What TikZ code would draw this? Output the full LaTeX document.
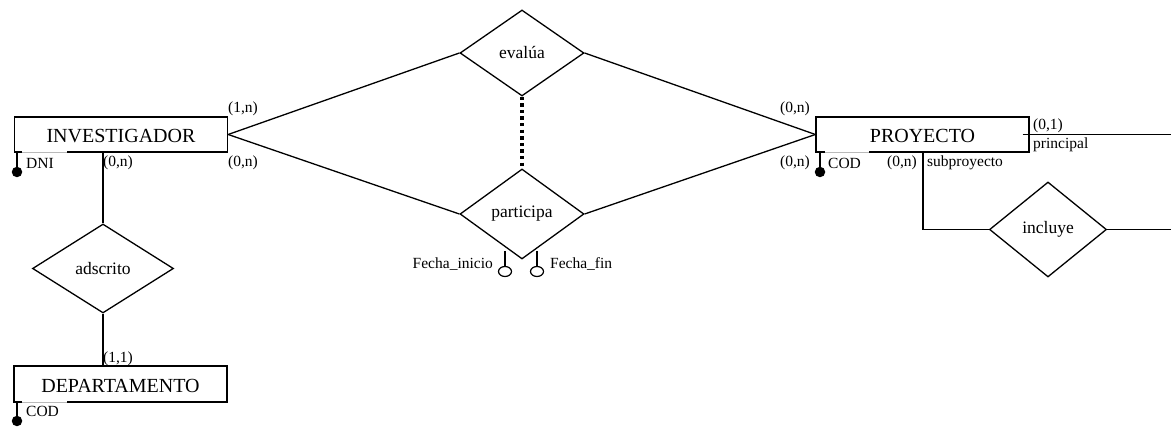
\documentclass[tikz,border=0pt]{standalone}
\usepackage{fontspec}
\setmainfont{Liberation Serif}
\usetikzlibrary{shapes.geometric}
\begin{document}
\begin{tikzpicture}[x=1pt,y=-1pt,
  ent/.style={draw, line width=1.3pt, rectangle, minimum width=213pt, minimum height=35pt, inner sep=0pt, text height=17pt, text depth=0pt, font=\fontsize{20}{22}\selectfont},
  rel/.style={draw, line width=1.3pt, diamond, inner sep=0pt, font=\fontsize{17.5}{19}\selectfont},
  lbl/.style={inner sep=0pt, font=\fontsize{15.5}{17}\selectfont},
  conn/.style={line width=1.3pt},
  keydot/.style={fill=black, circle, inner sep=0pt, minimum size=10.5pt},
  opendot/.style={draw, line width=1.2pt, ellipse, inner sep=0pt, minimum width=13pt, minimum height=10pt},
  dotline/.style={line width=3.3pt, dash pattern=on 3.3pt off 3.3pt},
  faint/.style={gray!55, line width=0.7pt}]
\useasboundingbox (0,0) rectangle (1171,427);

% entities
\node[ent] (inv) at (121,134.5) {INVESTIGADOR};
\node[ent] (pro) at (922.5,134.5) {PROYECTO};
\node[ent, minimum height=36pt] (dep) at (120.5,384) {DEPARTAMENTO};

% faint parts of bottom edges
\draw[white, line width=1.8pt] (22,152) -- (67,152);
\draw[faint] (22,152) -- (67,152);
\draw[white, line width=1.8pt] (825,152) -- (869,152);
\draw[faint] (825,152) -- (869,152);
\draw[white, line width=1.8pt] (22,402) -- (67,402);
\draw[faint] (22,402) -- (67,402);

% relationships
\node[rel, minimum width=124pt, minimum height=86pt] (eva) at (522,53) {evalúa};
\node[rel, minimum width=124pt, minimum height=90pt] (par) at (522,214) {participa};
\node[rel, minimum width=141pt, minimum height=89pt] (ads) at (103,268.5) {adscrito};
\node[rel, minimum width=117pt, minimum height=95pt] (inc) at (1048,229.5) {incluye};

% connectors
\draw[conn] (inv.east) -- (eva.west);
\draw[conn] (inv.east) -- (par.west);
\draw[conn] (pro.west) -- (eva.east);
\draw[conn] (pro.west) -- (par.east);
\draw[dotline] (eva.south) -- (par.north);
\draw[conn] (inv.south -| ads.north) -- (ads.north);
\draw[conn] (ads.south) -- (ads.south |- dep.north);
\coordinate (prend) at (1171,134.5);
\draw[conn] ([xshift=-7pt]pro.east) -- (prend);
\draw[conn] ([xshift=0.5pt]pro.south) |- (inc.west);
\coordinate (incend) at (1171,229.5);
\draw[conn] (inc.east) -- (incend);

% key attributes
\coordinate (k1) at (17,152);
\node[keydot] (k1d) at (17,172) {};
\draw[conn] (k1) -- (k1d.center);
\coordinate (k2) at (820,152);
\node[keydot] (k2d) at (820,172) {};
\draw[conn] (k2) -- (k2d.center);
\coordinate (k3) at (17,402);
\node[keydot] (k3d) at (17,421) {};
\draw[conn] (k3) -- (k3d.center);

% participa attributes
\coordinate (a1) at (505,251);
\node[opendot] (a1d) at (505,271.5) {};
\draw[conn] (a1) -- (a1d.north);
\coordinate (a2) at (537,251);
\node[opendot] (a2d) at (537,271.5) {};
\draw[conn] (a2) -- (a2d.north);

% labels
\node[lbl, anchor=west] (l1) at (228,109) {(1,n)};
\node[lbl, anchor=west] (l2) at (228,163) {(0,n)};
\node[lbl, anchor=west] (l3) at (26,163) {DNI};
\node[lbl, anchor=west] (l4) at (103,163) {(0,n)};
\node[lbl, anchor=east] (l5) at (810,109) {(0,n)};
\node[lbl, anchor=east] (l6) at (810,163) {(0,n)};
\node[lbl, anchor=west] (l7) at (828,163) {COD};
\node[lbl, anchor=west] (l8) at (887,163) {(0,n)};
\node[lbl, anchor=west] (l9) at (927,163) {subproyecto};
\node[lbl, anchor=west] (l10) at (1033,126) {(0,1)};
\node[lbl, anchor=west] (l11) at (1033,145) {principal};
\node[lbl, anchor=east] (l12) at (493,264) {Fecha\_inicio};
\node[lbl, anchor=west] (l13) at (550,264) {Fecha\_fin};
\node[lbl, anchor=west] (l14) at (103,359) {(1,1)};
\node[lbl, anchor=west] (l15) at (26,411) {COD};
\end{tikzpicture}
\end{document}
